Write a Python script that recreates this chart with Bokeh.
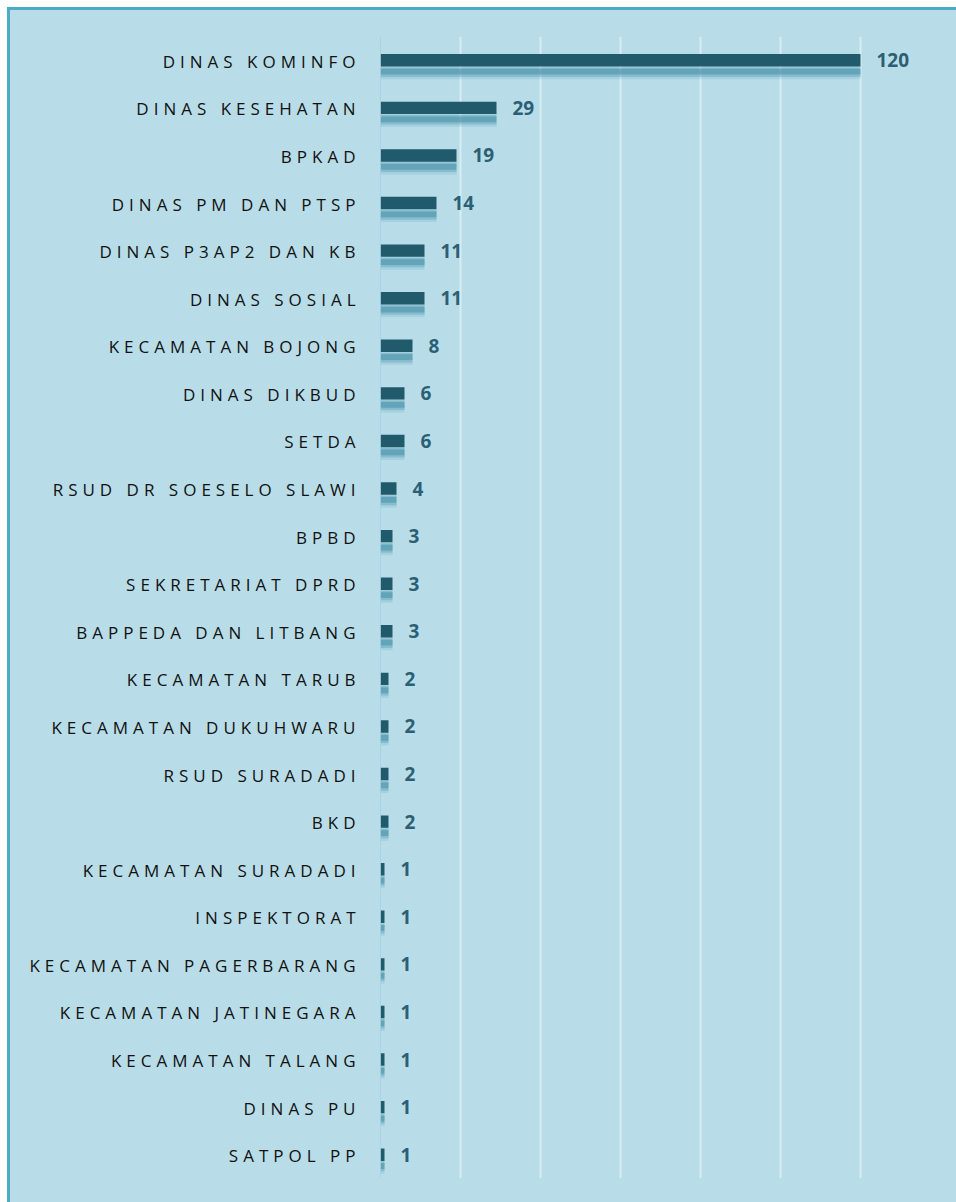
from bokeh.plotting import figure
from bokeh.layouts import row
from bokeh.models import ColumnDataSource, FactorRange, Range1d, FixedTicker
from bokeh.transform import dodge
from bokeh.core.properties import value
from bokeh.embed import file_html
from bokeh.resources import INLINE

categories = [
    "DINAS KOMINFO", "DINAS KESEHATAN", "BPKAD", "DINAS PM DAN PTSP",
    "DINAS P3AP2 DAN KB", "DINAS SOSIAL", "KECAMATAN BOJONG", "DINAS DIKBUD",
    "SETDA", "RSUD DR SOESELO SLAWI", "BPBD", "SEKRETARIAT DPRD",
    "BAPPEDA DAN LITBANG", "KECAMATAN TARUB", "KECAMATAN DUKUHWARU",
    "RSUD SURADADI", "BKD", "KECAMATAN SURADADI", "INSPEKTORAT",
    "KECAMATAN PAGERBARANG", "KECAMATAN JATINEGARA", "KECAMATAN TALANG",
    "DINAS PU", "SATPOL PP",
]
counts = [120, 29, 19, 14, 11, 11, 8, 6, 6, 4, 3, 3, 3, 2, 2, 2, 2, 1, 1, 1, 1, 1, 1, 1]
x_ticks = [0, 20, 40, 60, 80, 100, 120, 140]

LETTER_SPACING = 5  # px, applied through CSS on the label panel
GAP = 25            # px between label end and the zero line

src = ColumnDataSource(dict(
    cat=categories, val=counts, lbl=[str(v) for v in counts],
    anchor=[1] * len(categories),
    # letter-spacing widens text to the right; shift left to keep right alignment
    xoff=[-(GAP - LETTER_SPACING) - LETTER_SPACING * len(c) for c in categories],
))

BG = "#B8DDE8"
BAR = "#215A6A"
SHADOW = "#3F8CA6"
H = 1192
TOP, BOTTOM = 26, 24

y_range = FactorRange(factors=list(reversed(categories)), range_padding=0)

# ---- left panel: category labels (letter-spaced) ----
left = figure(
    width=370, height=H, y_range=y_range, x_range=Range1d(0, 1),
    output_backend="svg", toolbar_location=None,
    min_border_left=0, min_border_right=0, min_border_top=TOP, min_border_bottom=BOTTOM,
    background_fill_color=BG, border_fill_color=BG,
)
left.styles = {"letter-spacing": f"{LETTER_SPACING}px"}
left.outline_line_color = None
left.axis.visible = False
left.grid.visible = False
left.text(x="anchor", y="cat", text="cat", source=src, x_offset="xoff", y_offset=1,
          text_align="right", text_baseline="middle",
          text_font=value("Open Sans"), text_font_size="17px", text_color="#111111")

# ---- right panel: bars ----
p = figure(
    width=576, height=H, y_range=y_range, x_range=Range1d(0, 140),
    output_backend="svg", toolbar_location=None,
    min_border_left=0, min_border_right=16, min_border_top=TOP, min_border_bottom=BOTTOM,
    background_fill_color=BG, border_fill_color=BG,
)
p.outline_line_color = None

# shadows (soft reflection beneath each bar)
p.hbar(y=dodge("cat", -0.26, range=y_range), left=0, right="val", height=0.28,
       source=src, fill_color=SHADOW, fill_alpha=0.15, line_color=None)
p.hbar(y=dodge("cat", -0.25, range=y_range), left=0, right="val", height=0.20,
       source=src, fill_color=SHADOW, fill_alpha=0.3, line_color=None)
p.hbar(y=dodge("cat", -0.24, range=y_range), left=0, right="val", height=0.12,
       source=src, fill_color=SHADOW, fill_alpha=0.5, line_color=None)

# bars
p.hbar(y="cat", left=0, right="val", height=0.26, source=src,
       fill_color=BAR, line_color=None)

# value labels
p.text(x="val", y="cat", text="lbl", source=src, x_offset=16,
       text_baseline="middle", text_align="left",
       text_font=value("Open Sans"), text_font_style="bold",
       text_font_size="19px", text_color="#2B6074")

# grid
p.ygrid.grid_line_color = None
p.xgrid.ticker = FixedTicker(ticks=x_ticks)
p.xgrid.grid_line_color = "white"
p.xgrid.grid_line_alpha = 0.45
p.xgrid.grid_line_width = 2

# axis line at zero
p.xaxis.visible = False
p.yaxis.visible = False
p.vspan(x=[0], line_color="#93CCDD", line_width=1)

layout = row(left, p, spacing=0)
layout.styles = {"border-left": "3px solid #4BACC6", "border-top": "3px solid #4BACC6",
                 "margin-left": "7px", "margin-top": "7px", "background-color": BG}

open("out.html", "w").write(file_html(layout, INLINE))
